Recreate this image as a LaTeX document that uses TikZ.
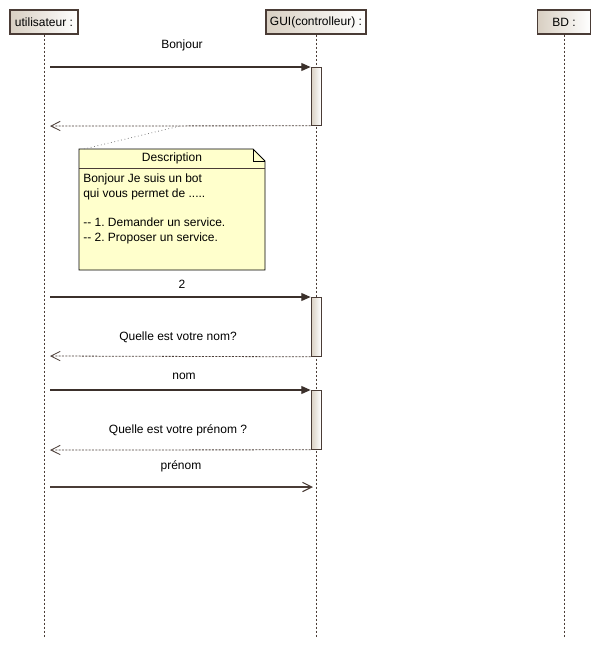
\documentclass[tikz,border=0pt]{standalone}
\usepackage{fontspec}
\setmainfont{Liberation Sans}
\frenchspacing
\usetikzlibrary{arrows.meta,shapes.misc}
\definecolor{brd}{HTML}{4A3C36}
\definecolor{hdr}{HTML}{D8CFC2}
\definecolor{notefill}{HTML}{FFFFCC}
\tikzset{
  hdrbox/.style={draw=brd, line width=0.8pt, left color=hdr, right color=white, shading angle=90, minimum height=18pt, inner sep=2pt, font=\fontsize{9}{11}\selectfont},
  lifeline/.style={draw=brd, dash pattern=on 1.5pt off 1.5pt, line width=0.5pt},
  actbox/.style={draw=brd, line width=0.6pt, left color=hdr, right color=white},
  syncmsg/.style={draw=brd!80!black, line width=0.8pt, -{Triangle[length=7pt,width=6pt]}},
  retmsg/.style={draw=brd, line width=0.6pt, dash pattern=on 1.5pt off 1pt, -{Straight Barb[length=7pt,width=7pt]}},
  asyncmsg/.style={draw=brd, line width=0.8pt, -{Straight Barb[length=7pt,width=7pt]}},
  lbl/.style={font=\fontsize{9}{11}\selectfont, text=black, inner sep=0pt},
}
\begin{document}
\begin{tikzpicture}[x=0.75pt,y=-0.75pt]
\useasboundingbox (0,0) rectangle (602,647);
% headers
\node[hdrbox, minimum width=51pt] (u) at (44,22) {utilisateur :};
\node[hdrbox, minimum width=75pt] (g) at (316,22) {GUI(controlleur) :};
\node[hdrbox, minimum width=40pt] (b) at (564,22) {BD :};
\coordinate (ue) at (44,637);
\coordinate (ge) at (316,637);
\coordinate (be) at (564,637);
\draw[lifeline] (u.south) -- (ue);
\draw[lifeline] (g.south) -- (ge);
\draw[lifeline] (b.south) -- (be);
% activations
\node[actbox, minimum width=7.5pt, minimum height=43.5pt, inner sep=0pt, anchor=north] (a1) at (316,67) {};
\node[actbox, minimum width=7.5pt, minimum height=44.25pt, inner sep=0pt, anchor=north] (a2) at (316,297) {};
\node[actbox, minimum width=7.5pt, minimum height=44.25pt, inner sep=0pt, anchor=north] (a3) at (316,390) {};
% message endpoints
\coordinate (m1s) at (50,67);
\coordinate (m1r) at (50,126);
\coordinate (m2s) at (50,297);
\coordinate (m2r) at (50,356);
\coordinate (m3s) at (50,390);
\coordinate (m3r) at (50,450);
\coordinate (m4s) at (50,487);
\coordinate (m4e) at (313,487);
\draw[syncmsg] (m1s) -- (a1.north west);
\draw[retmsg] (a1.south west) -- (m1r);
\draw[syncmsg] (m2s) -- (a2.north west);
\draw[retmsg] (a2.south west) -- (m2r);
\draw[syncmsg] (m3s) -- (a3.north west);
\draw[retmsg] (a3.south west) -- (m3r);
\draw[asyncmsg] (m4s) -- (m4e);
% labels
\node[lbl] (l1) at (182,45) {Bonjour};
\node[lbl] (l2) at (182,284) {2};
\node[lbl] (l3) at (178,337) {Quelle est votre nom?};
\node[lbl] (l4) at (184,376) {nom};
\node[lbl] (l5) at (178,430) {Quelle est votre prénom ?};
\node[lbl] (l6) at (181,466) {prénom};
% note
\coordinate (n1) at (79,149);
\coordinate (n2) at (253,149);
\coordinate (n3) at (265,161);
\coordinate (n4) at (265,270);
\coordinate (n5) at (79,270);
\draw[fill=notefill, draw=black, line width=0.6pt] (n1) -- (n2) -- (n3) -- (n4) -- (n5) -- cycle;
\draw[black, line width=0.5pt] (n2) -- (253,161) -- (n3);
\draw[brd, line width=0.5pt] (79,168) -- (265,168);
\node[lbl] (nt) at (172,158) {Description};
\node[lbl, anchor=north west, align=left, font=\fontsize{9}{10.9}\selectfont] (nb) at (83,174) {Bonjour Je suis un bot\\qui vous permet de .....\\[10.9pt]-{}- 1. Demander un service.\\-{}- 2. Proposer un service.};
\coordinate (na) at (180,126);
\draw[gray, dotted, line width=0.6pt] (84,149) -- (na);
\end{tikzpicture}
\end{document}
